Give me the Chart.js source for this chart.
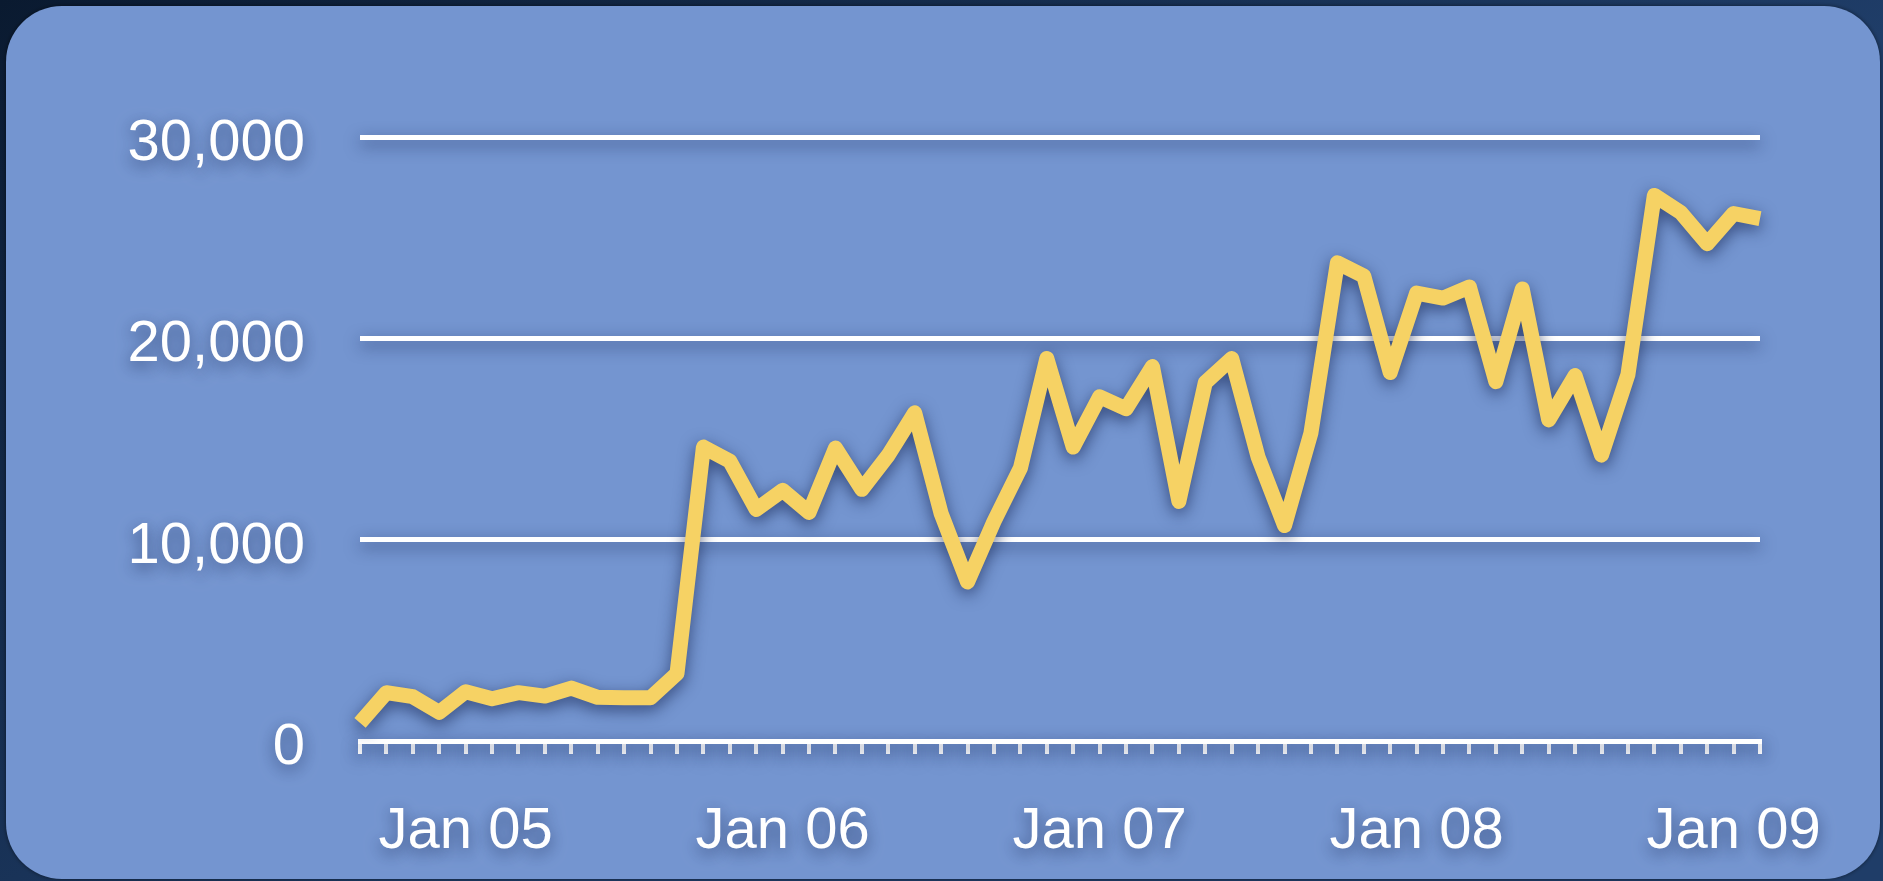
<!DOCTYPE html>
<html>
<head>
<meta charset="utf-8">
<script src="https://cdn.jsdelivr.net/npm/chart.js@4/dist/chart.umd.min.js"></script>
<style>
  html, body { margin: 0; padding: 0; background: #0d2140; overflow: hidden; }
  canvas { display: block; }
</style>
</head>
<body>
<canvas id="sales" width="1883" height="881"></canvas>
<script>
// monthly values, Sep 04 .. Feb 09
const months = [
    'Sep 04', 'Oct 04', 'Nov 04', 'Dec 04',
    'Jan 05', 'Feb 05', 'Mar 05', 'Apr 05', 'May 05', 'Jun 05', 'Jul 05', 'Aug 05', 'Sep 05', 'Oct 05', 'Nov 05', 'Dec 05',
    'Jan 06', 'Feb 06', 'Mar 06', 'Apr 06', 'May 06', 'Jun 06', 'Jul 06', 'Aug 06', 'Sep 06', 'Oct 06', 'Nov 06', 'Dec 06',
    'Jan 07', 'Feb 07', 'Mar 07', 'Apr 07', 'May 07', 'Jun 07', 'Jul 07', 'Aug 07', 'Sep 07', 'Oct 07', 'Nov 07', 'Dec 07',
    'Jan 08', 'Feb 08', 'Mar 08', 'Apr 08', 'May 08', 'Jun 08', 'Jul 08', 'Aug 08', 'Sep 08', 'Oct 08', 'Nov 08', 'Dec 08',
    'Jan 09', 'Feb 09'
];
const values = [
    900, 2400, 2200, 1420,
    2450, 2100, 2400, 2230, 2630, 2170, 2150, 2150, 3350, 14600, 13900, 11500,
    12450, 11350, 14550, 12500, 14200, 16300, 11300, 7900, 10900, 13550, 19000, 14600,
    17100, 16500, 18600, 11900, 17800, 19000, 14100, 10700, 15300, 23750, 23100, 18300,
    22250, 22000, 22550, 17850, 22450, 15950, 18150, 14200, 18200, 27100, 26250, 24700,
    26200, 25950
];
const yTicks = [0, 10000, 20000, 30000];

const panelColor = '#7495D0';
const lineColor = '#F6D264';
const white = '#FFFFFF';

// dark backdrop, rounded blue panel, then shadows for everything drawn on it
const panelPlugin = {
    id: 'panel',
    beforeDraw(chart) {
        const ctx = chart.ctx;
        const w = chart.width, h = chart.height;
        let g = ctx.createLinearGradient(0, 0, w * 0.3, h);
        g.addColorStop(0, '#0a1a30');
        g.addColorStop(1, '#1f3d68');
        ctx.fillStyle = g;
        ctx.fillRect(0, 0, w, h);

        ctx.save();
        ctx.shadowColor = 'rgba(0,0,0,0.5)';
        ctx.shadowBlur = 4;
        ctx.fillStyle = panelColor;
        ctx.beginPath();
        ctx.roundRect(6, 6, 1874, 873, 56);
        ctx.fill();
        ctx.restore();

        ctx.save();
        ctx.shadowColor = 'rgba(20,35,80,0.65)';
        ctx.shadowBlur = 16;
        ctx.shadowOffsetY = 5;
    },
    afterDraw(chart) {
        chart.ctx.restore();
    }
};

const salesData = {
    labels: months,
    datasets: [{
        data: values,
        borderColor: lineColor,
        borderWidth: 15,
        borderJoinStyle: 'round',
        pointRadius: 0,
        tension: 0,
        clip: false
    }]
};

const chartOptions = {
    responsive: false,
    animation: false,
    layout: {
        padding: { left: 0, top: 137, right: 123, bottom: 0 }
    },
    plugins: {
        legend: { display: false },
        tooltip: { enabled: false }
    },
    scales: {
        x: {
            type: 'category',
            offset: false,
            afterFit(scale) { scale.height = 140; },
            border: { display: true, color: white, width: 5 },
            grid: {
                drawOnChartArea: false,
                drawTicks: true,
                tickLength: 13,
                color: white,
                lineWidth: 4
            },
            ticks: {
                autoSkip: false,
                maxRotation: 0,
                minRotation: 0,
                padding: 43,
                color: white,
                font: { family: 'Liberation Sans', size: 58 },
                callback: function (val) {
                    const lbl = this.getLabelForValue(val);
                    return lbl.startsWith('Jan') ? lbl : '';
                }
            }
        },
        y: {
            min: yTicks[0],
            max: yTicks[yTicks.length - 1],
            afterFit(scale) { scale.width = 360; },
            afterBuildTicks(scale) { scale.ticks = yTicks.map(v => ({ value: v })); },
            border: { display: false },
            grid: {
                drawTicks: false,
                lineWidth: 5,
                color: ctx => ctx.tick && ctx.tick.value === 0 ? 'rgba(0,0,0,0)' : white
            },
            ticks: {
                padding: 55,
                labelOffset: 7,
                color: white,
                font: { family: 'Liberation Sans', size: 58 },
                callback: v => v.toLocaleString('en-US')
            }
        }
    }
};

new Chart(document.getElementById('sales').getContext('2d'), {
    type: 'line',
    data: salesData,
    options: chartOptions,
    plugins: [panelPlugin]
});
</script>
</body>
</html>
